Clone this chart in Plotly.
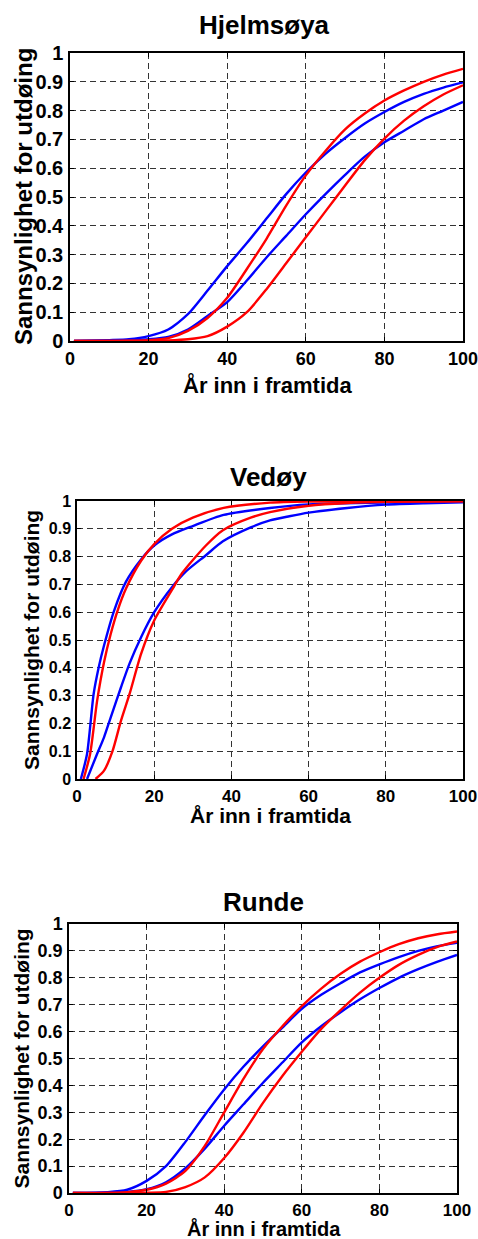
import plotly.graph_objects as go

# ---------------- data ----------------
titles = ["Hjelmsøya", "Vedøy", "Runde"]
x_title = "År inn i framtida"
y_title = "Sannsynlighet for utdøing"
x_ticks = [0, 20, 40, 60, 80, 100]
y_ticks = [0, 0.1, 0.2, 0.3, 0.4, 0.5, 0.6, 0.7, 0.8, 0.9, 1]
y_tick_text = ["0", "0.1", "0.2", "0.3", "0.4", "0.5", "0.6", "0.7", "0.8", "0.9", "1"]

# Hjelmsøya
h_x = [1, 10, 15, 20, 25, 30, 35, 40, 45, 50, 55, 60, 65, 70, 75, 80, 85, 90, 95, 100]
h_blue1 = [0.0, 0.003, 0.006, 0.017, 0.04, 0.093, 0.175, 0.26, 0.34, 0.425, 0.51, 0.585, 0.65, 0.705, 0.755, 0.795, 0.83, 0.858, 0.88, 0.898]
h_blue2 = [0.0, 0.001, 0.003, 0.006, 0.014, 0.04, 0.087, 0.135, 0.21, 0.29, 0.365, 0.44, 0.51, 0.577, 0.64, 0.69, 0.73, 0.77, 0.80, 0.83]
h_red1 = [0.0, 0.0, 0.001, 0.003, 0.01, 0.035, 0.08, 0.15, 0.25, 0.355, 0.47, 0.575, 0.66, 0.735, 0.79, 0.835, 0.87, 0.90, 0.925, 0.945]
h_red2 = [0.0, 0.0, 0.0, 0.001, 0.002, 0.006, 0.017, 0.05, 0.10, 0.18, 0.27, 0.36, 0.45, 0.54, 0.628, 0.703, 0.765, 0.815, 0.856, 0.888]

# Vedøy
v_blue1_x = [1, 2.6, 4.3, 5.6, 7, 9.6, 12.7, 16.6, 20, 24.6, 30, 38, 50, 60, 80, 100]
v_blue1 = [0.0, 0.09, 0.305, 0.40, 0.48, 0.605, 0.71, 0.79, 0.84, 0.88, 0.91, 0.95, 0.975, 0.988, 0.995, 0.998]
v_red1_x = [1.7, 3.4, 5.2, 7, 8.7, 10.5, 12.7, 16.6, 20, 24.6, 30, 38, 50, 60, 100]
v_red1 = [0.0, 0.09, 0.28, 0.42, 0.52, 0.605, 0.685, 0.785, 0.845, 0.90, 0.94, 0.975, 0.994, 0.998, 1.0]
v_blue2_x = [2.6, 5.2, 7, 8.7, 11.4, 13.6, 16.6, 20, 24.6, 28.1, 33.4, 37.8, 45, 50, 55, 60, 70, 80, 90, 100]
v_blue2 = [0.0, 0.09, 0.15, 0.22, 0.33, 0.415, 0.51, 0.60, 0.69, 0.745, 0.805, 0.855, 0.905, 0.93, 0.945, 0.958, 0.975, 0.987, 0.992, 0.995]
v_red2_x = [4.8, 7, 9.2, 11.4, 13.6, 16.6, 20, 24.6, 27.2, 33.4, 37.8, 45, 50, 60, 70, 80, 100]
v_red2 = [0.0, 0.03, 0.10, 0.21, 0.305, 0.45, 0.57, 0.68, 0.74, 0.84, 0.895, 0.94, 0.96, 0.983, 0.993, 0.997, 0.999]

# Runde
r_x = [1, 10, 15, 20, 25, 30, 35, 40, 45, 50, 55, 60, 65, 70, 75, 80, 85, 90, 95, 100]
r_blue1 = [0.0, 0.003, 0.012, 0.045, 0.10, 0.19, 0.29, 0.385, 0.47, 0.545, 0.615, 0.685, 0.737, 0.78, 0.82, 0.85, 0.877, 0.90, 0.918, 0.93]
r_blue2 = [0.0, 0.001, 0.004, 0.014, 0.04, 0.092, 0.165, 0.25, 0.33, 0.41, 0.485, 0.56, 0.62, 0.672, 0.72, 0.762, 0.80, 0.832, 0.86, 0.885]
r_red1 = [0.0, 0.0, 0.003, 0.012, 0.035, 0.082, 0.175, 0.30, 0.425, 0.535, 0.62, 0.695, 0.76, 0.815, 0.86, 0.895, 0.925, 0.947, 0.962, 0.972]
r_red2 = [0.0, 0.0, 0.0, 0.001, 0.004, 0.022, 0.058, 0.13, 0.225, 0.335, 0.435, 0.525, 0.61, 0.68, 0.745, 0.80, 0.848, 0.885, 0.915, 0.935]

BLUE = "#0000FF"
RED = "#FF0000"

panels = [
    [(h_x, h_blue1, BLUE), (h_x, h_blue2, BLUE), (h_x, h_red1, RED), (h_x, h_red2, RED)],
    [(v_blue1_x, v_blue1, BLUE), (v_blue2_x, v_blue2, BLUE), (v_red1_x, v_red1, RED), (v_red2_x, v_red2, RED)],
    [(r_x, r_blue1, BLUE), (r_x, r_blue2, BLUE), (r_x, r_red1, RED), (r_x, r_red2, RED)],
]

W, H = 478, 1239
# plot area boxes in window pixels: (left, right, top, bottom)
boxes = [(70, 463, 53, 341), (77, 463, 501, 779), (69, 457, 924, 1193)]
ytick_sizes = [20, 16, 18]
xtick_sizes = [18, 17, 17]
title_sizes = [26, 26, 26]
xtitle_sizes = [22, 21, 20]
ytitle_sizes = [24, 21, 21]
title_y = [25, 477, 902]
title_x = [264, 268, 263]
xtitle_x = [267, 270, 264]
xtitle_y = [385, 815, 1228]
ytitle_x = [23, 32, 21]


def px(v):
    return v / W


def py(v):
    return 1 - v / H


FONT = "Arial, Liberation Sans, Helvetica, sans-serif"

fig = go.Figure()
annotations = []
for i, curves in enumerate(panels):
    xa = "x" if i == 0 else f"x{i+1}"
    ya = "y" if i == 0 else f"y{i+1}"
    for cx, cy, col in curves:
        fig.add_trace(go.Scatter(x=cx, y=cy, mode="lines", xaxis=xa, yaxis=ya,
                                 line=dict(color=col, width=2.4, shape="spline", smoothing=0.7),
                                 showlegend=False, hoverinfo="skip"))
    l, r, t, b = boxes[i]
    xkey = "xaxis" if i == 0 else f"xaxis{i+1}"
    ykey = "yaxis" if i == 0 else f"yaxis{i+1}"
    fig.layout[xkey] = dict(
        domain=[px(l), px(r)], anchor=ya, range=[0, 100], automargin=False,
        tickvals=x_ticks, ticks="inside", ticklen=4, tickcolor="black",
        showline=True, linecolor="black", linewidth=1.5, mirror="ticks",
        showgrid=True, gridcolor="#333333", gridwidth=1, griddash="6px,4px",
        zeroline=False, ticklabelstandoff=1, ticklabeloverflow="allow",
        tickfont=dict(family=FONT, size=xtick_sizes[i], color="black", weight="bold"),
    )
    fig.layout[ykey] = dict(
        domain=[py(b), py(t)], anchor=xa, range=[0, 1], automargin=False,
        tickvals=y_ticks, ticktext=y_tick_text, ticks="inside", ticklen=4, tickcolor="black",
        showline=True, linecolor="black", linewidth=1.5, mirror="ticks",
        showgrid=True, gridcolor="#333333", gridwidth=1, griddash="6px,4px",
        zeroline=False, ticklabelstandoff=1, ticklabeloverflow="allow",
        tickfont=dict(family=FONT, size=ytick_sizes[i], color="black", weight="bold"),
    )
    annotations.append(dict(text=f"<b>{titles[i]}</b>", xref="paper", yref="paper",
                            x=px(title_x[i]), y=py(title_y[i]), showarrow=False,
                            xanchor="center", yanchor="middle",
                            font=dict(family=FONT, size=title_sizes[i], color="black")))
    annotations.append(dict(text=f"<b>{x_title}</b>", xref="paper", yref="paper",
                            x=px(xtitle_x[i]), y=py(xtitle_y[i]), showarrow=False,
                            xanchor="center", yanchor="middle",
                            font=dict(family=FONT, size=xtitle_sizes[i], color="black")))
    annotations.append(dict(text=f"<b>{y_title}</b>", xref="paper", yref="paper",
                            x=px(ytitle_x[i]), y=py((t + b) / 2), showarrow=False,
                            textangle=-90, xanchor="center", yanchor="middle",
                            font=dict(family=FONT, size=ytitle_sizes[i], color="black")))

fig.update_layout(width=W, height=H, margin=dict(l=0, r=0, t=0, b=0),
                  paper_bgcolor="white", plot_bgcolor="white",
                  annotations=annotations, font=dict(family=FONT))
# remove the default page margin so the figure fills the window exactly
fig.write_html("out.html",
               config={"displayModeBar": False},
               post_script="document.body.style.margin='0px';"
                           "document.documentElement.style.overflow='hidden';")
